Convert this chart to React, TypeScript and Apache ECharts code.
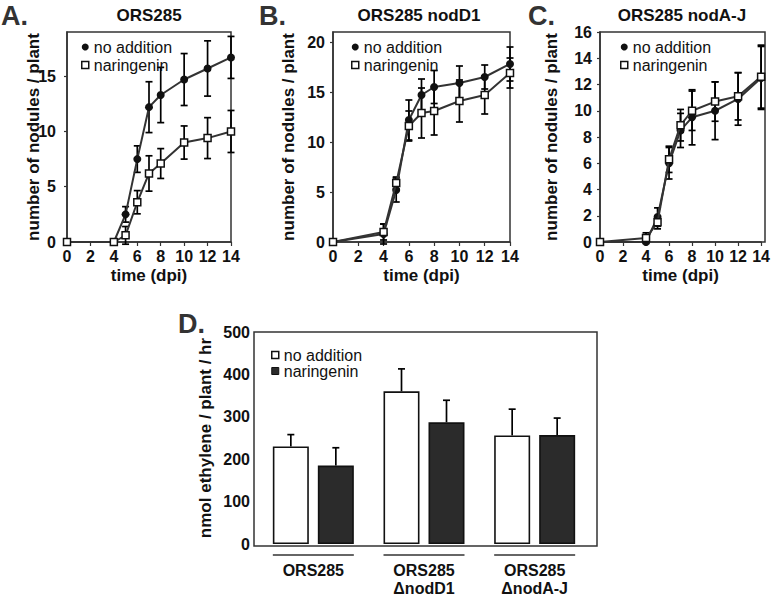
import React, { useEffect, useRef } from "react";
import * as echarts from "echarts";

const days = [0, 4, 5, 6, 7, 8, 10, 12, 14];

// Panel A: ORS285
const aNoAdd = [0, 0, 2.5, 7.5, 12.2, 13.3, 14.7, 15.7, 16.7];
const aNoAddErr = [0, 0, 0.7, 1.2, 2.3, 2.5, 2.35, 2.5, 1.9];
const aNar = [0, 0, 0.6, 3.6, 6.2, 7.1, 9.0, 9.4, 10.0];
const aNarErr = [0, 0, 0.8, 1.05, 1.6, 1.35, 1.5, 1.85, 1.9];

// Panel B: ORS285 nodD1
const bNoAdd = [0, 0.8, 5.2, 12.2, 14.7, 15.5, 15.9, 16.5, 17.8];
const bNoAddErr = [0, 1.0, 1.2, 2.0, 1.6, 1.65, 1.7, 1.2, 1.7];
const bNar = [0, 1.0, 5.9, 11.6, 12.9, 13.1, 14.1, 14.7, 16.9];
const bNarErr = [0, 0.8, 0.6, 1.5, 2.5, 2.4, 2.1, 1.9, 1.5];

// Panel C: ORS285 nodA-J
const cNoAdd = [0, 0, 1.9, 6.0, 8.5, 9.5, 10.0, 10.9, 12.5];
const cNoAddErr = [0, 0, 0.7, 1.2, 1.3, 2.1, 2.2, 2.0, 2.4];
const cNar = [0, 0.3, 1.5, 6.3, 8.9, 10.0, 10.7, 11.1, 12.6];
const cNarErr = [0, 0.4, 0.5, 1.0, 1.2, 1.5, 1.5, 1.8, 2.4];

// Panel D: ethylene
const strains = ["ORS285", "ORS285\n\u0394nodD1", "ORS285\n\u0394nodA-J"];
const dNoAdd = [230, 360, 256];
const dNoAddErr = [28, 53, 62];
const dNar = [185, 287, 257];
const dNarErr = [42, 52, 40];

const FONT = "Liberation Sans";
const DARK = "#333";
const BAR_W = 36;
const BAR_GAP = 9;

const errPoints = (vals: number[], errs: number[]) =>
  days.map((d, i) => [d, vals[i] - errs[i], vals[i] + errs[i]]);

function errorRender(params: any, api: any) {
  const lo = api.value(1);
  const hi = api.value(2);
  if (hi - lo <= 0) return { type: "group", children: [] };
  const x = api.value(0);
  const pTop = api.coord([x, hi]);
  const pBot = api.coord([x, lo]);
  const hw = 3.5;
  const st = { stroke: "#000", lineWidth: 1.7 };
  return {
    type: "group",
    children: [
      { type: "line", shape: { x1: pTop[0], y1: pTop[1], x2: pBot[0], y2: pBot[1] }, style: st },
      { type: "line", shape: { x1: pTop[0] - hw, y1: pTop[1], x2: pTop[0] + hw, y2: pTop[1] }, style: st },
      { type: "line", shape: { x1: pBot[0] - hw, y1: pBot[1], x2: pBot[0] + hw, y2: pBot[1] }, style: st },
    ],
  };
}

function barErrorRender(offset: number) {
  return (params: any, api: any) => {
    const c = api.value(0);
    const v = api.value(1);
    const e = api.value(2);
    const p = api.coord([c, v]);
    const t = api.coord([c, v + e]);
    const x = p[0] + offset;
    const hw = 3.5;
    const st = { stroke: "#000", lineWidth: 1.7 };
    return {
      type: "group",
      children: [
        { type: "line", shape: { x1: x, y1: p[1], x2: x, y2: t[1] }, style: st },
        { type: "line", shape: { x1: x - hw, y1: t[1], x2: x + hw, y2: t[1] }, style: st },
      ],
    };
  };
}

const grids = [
  { left: 67, top: 32, width: 164, height: 210 },
  { left: 333, top: 32, width: 177, height: 210 },
  { left: 600, top: 32, width: 165, height: 210 },
];

const yMax = [19, 21, 16];
const yInt = [5, 5, 2];
const yNameGap = [25, 36, 40];

const panelData = [
  [aNoAdd, aNoAddErr, aNar, aNarErr],
  [bNoAdd, bNoAddErr, bNar, bNarErr],
  [cNoAdd, cNoAddErr, cNar, cNarErr],
];

const tickLabel = { fontFamily: FONT, fontWeight: "bold" as const, fontSize: 16, color: "#111" };
const nameStyle = { fontFamily: FONT, fontWeight: "bold" as const, fontSize: 17, color: "#111" };

export default function App() {
  const ref = useRef<HTMLDivElement>(null);
  useEffect(() => {
    document.body.style.margin = "0";
    const chart = echarts.init(ref.current!, null, { renderer: "svg" });

    const xAxes: any[] = [];
    const yAxes: any[] = [];
    const series: any[] = [];
    const legends: any[] = [];
    const legendLeft = [76, 346, 615];

    grids.forEach((g, i) => {
      xAxes.push({
        type: "value",
        gridIndex: i,
        min: 0,
        max: 14,
        interval: 2,
        name: "time (dpi)",
        nameLocation: "middle",
        nameGap: 25,
        nameMoveOverlap: false,
        nameTextStyle: nameStyle,
        axisLine: { lineStyle: { color: DARK, width: 1.5 } },
        axisTick: { show: true, length: 4, lineStyle: { color: DARK, width: 1.2 } },
        axisLabel: { ...tickLabel, margin: 6 },
        splitLine: { show: false },
      });
      yAxes.push({
        type: "value",
        gridIndex: i,
        min: 0,
        max: yMax[i],
        interval: yInt[i],
        name: "number of nodules / plant",
        nameLocation: "middle",
        nameGap: yNameGap[i],
        nameMoveOverlap: false,
        nameTextStyle: nameStyle,
        axisLine: { lineStyle: { color: DARK, width: 1.5 } },
        axisTick: { show: true, length: 3, lineStyle: { color: DARK, width: 1.2 } },
        axisLabel: { ...tickLabel, margin: i === 0 ? 11 : 8, showMaxLabel: yMax[i] % yInt[i] === 0 },
        splitLine: { show: false },
      });
      const [na, naE, nr, nrE] = panelData[i];
      series.push(
        {
          type: "custom",
          xAxisIndex: i,
          yAxisIndex: i,
          renderItem: errorRender,
          data: errPoints(na, naE),
          z: 3,
          silent: true,
        },
        {
          type: "custom",
          xAxisIndex: i,
          yAxisIndex: i,
          renderItem: errorRender,
          data: errPoints(nr, nrE),
          z: 3,
          silent: true,
        },
        {
          type: "line",
          name: "no addition",
          xAxisIndex: i,
          yAxisIndex: i,
          data: days.map((d, k) => [d, na[k]]),
          symbol: "circle",
          symbolSize: 8,
          itemStyle: { color: "#111" },
          lineStyle: { color: DARK, width: 2 },
          z: 5,
        },
        {
          type: "line",
          name: "naringenin",
          xAxisIndex: i,
          yAxisIndex: i,
          data: days.map((d, k) => [d, nr[k]]),
          symbol: "rect",
          symbolSize: 7,
          itemStyle: { color: "#fff", borderColor: "#111", borderWidth: 1.5 },
          lineStyle: { color: DARK, width: 2 },
          z: 6,
        }
      );
      legends.push({
        left: legendLeft[i],
        top: 34,
        orient: "vertical",
        itemWidth: 7,
        itemHeight: 7,
        itemGap: 2,
        selectedMode: false,
        textStyle: { fontFamily: FONT, fontSize: 16, color: "#111" },
        data: [
          { name: "no addition", icon: "circle", itemStyle: { color: "#111", borderWidth: 0 } },
          { name: "naringenin", icon: "rect", itemStyle: { color: "#fff", borderColor: "#111", borderWidth: 1.5 } },
        ],
      });
    });

    // Panel D
    const gD = { left: 258, top: 332, width: 332, height: 214 };
    xAxes.push({
      type: "category",
      gridIndex: 3,
      data: strains,
      axisLine: { show: false },
      axisTick: { show: false },
      axisLabel: {
        fontFamily: FONT,
        fontWeight: "bold",
        fontSize: 16,
        color: "#111",
        lineHeight: 18,
        margin: 17,
      },
    });
    yAxes.push({
      type: "value",
      gridIndex: 3,
      min: 0,
      max: 500,
      interval: 100,
      name: "nmol ethylene / plant / hr",
      nameLocation: "middle",
      nameGap: 44,
      nameMoveOverlap: false,
      nameTextStyle: nameStyle,
      axisLine: { show: false },
      axisTick: { show: false },
      axisLabel: { ...tickLabel, margin: 8 },
      splitLine: { show: false },
    });
    const off = (BAR_W + BAR_GAP) / 2;
    series.push(
      {
        type: "bar",
        name: "no addition",
        xAxisIndex: 3,
        yAxisIndex: 3,
        data: dNoAdd,
        barWidth: BAR_W,
        barGap: (BAR_GAP / BAR_W) * 100 + "%",
        itemStyle: { color: "#fff", borderColor: "#111", borderWidth: 1.6 },
        z: 2,
      },
      {
        type: "bar",
        name: "naringenin",
        xAxisIndex: 3,
        yAxisIndex: 3,
        data: dNar,
        barWidth: BAR_W,
        barGap: (BAR_GAP / BAR_W) * 100 + "%",
        itemStyle: { color: "#2b2b2b", borderColor: "#111", borderWidth: 1.6 },
        z: 2,
      },
      {
        type: "custom",
        xAxisIndex: 3,
        yAxisIndex: 3,
        renderItem: barErrorRender(-off),
        data: strains.map((_, k) => [k, dNoAdd[k], dNoAddErr[k]]),
        z: 1,
        silent: true,
      },
      {
        type: "custom",
        xAxisIndex: 3,
        yAxisIndex: 3,
        renderItem: barErrorRender(off),
        data: strains.map((_, k) => [k, dNar[k], dNarErr[k]]),
        z: 1,
        silent: true,
      }
    );
    legends.push({
      left: 266,
      top: 342,
      orient: "vertical",
      itemWidth: 7,
      itemHeight: 7,
      itemGap: 0,
      selectedMode: false,
      textStyle: { fontFamily: FONT, fontSize: 16, color: "#111", lineHeight: 14 },
      data: [
        { name: "no addition", icon: "rect", itemStyle: { color: "#fff", borderColor: "#111", borderWidth: 1.5 } },
        { name: "naringenin", icon: "rect", itemStyle: { color: "#2b2b2b", borderColor: "#111", borderWidth: 1 } },
      ],
    });

    const letter = (t: string, x: number, y: number) => ({
      type: "text",
      x,
      y,
      style: { text: t, fontFamily: FONT, fontWeight: "bold", fontSize: 27, fill: "#333", textVerticalAlign: "middle" },
    });
    const title = (t: string, x: number) => ({
      type: "text",
      x,
      y: 15,
      style: {
        text: t,
        fontFamily: FONT,
        fontWeight: "bold",
        fontSize: 17,
        fill: "#111",
        textAlign: "center",
        textVerticalAlign: "middle",
      },
    });

    const baseGraphic: any[] = [
      letter("A.", 1, 16),
      letter("B.", 259, 16),
      letter("C.", 528, 16),
      letter("D.", 178, 324),
      title("ORS285", 149, 15),
      title("ORS285 nodD1", 419, 15),
      title("ORS285 nodA-J", 682, 15),
      ...grids.map((g) => ({
        type: "rect",
        shape: { x: g.left, y: g.top, width: g.width, height: g.height },
        style: { fill: "none", stroke: DARK, lineWidth: 1.5 },
        z: 0,
      })),
      {
        type: "rect",
        shape: { x: 254, y: 332, width: 343, height: 214 },
        style: { fill: "none", stroke: DARK, lineWidth: 1.5 },
        z: 0,
      },
    ];

    chart.setOption({
      animation: false,
      backgroundColor: "#fff",
      textStyle: { fontFamily: FONT },
      grid: [...grids, gD],
      xAxis: xAxes,
      yAxis: yAxes,
      legend: legends,
      series,
      graphic: baseGraphic,
    });

    const under: any[] = strains.map((_, k) => {
      const p = chart.convertToPixel({ xAxisIndex: 3, yAxisIndex: 3 } as any, [k, 0]) as number[];
      const half = BAR_W + BAR_GAP / 2;
      return {
        type: "line",
        shape: { x1: p[0] - half, y1: p[1] + 11, x2: p[0] + half, y2: p[1] + 11 },
        style: { stroke: DARK, lineWidth: 1.5 },
      };
    });
    chart.setOption({ graphic: [...baseGraphic, ...under] });

    return () => chart.dispose();
  }, []);

  return <div ref={ref} style={{ width: 773, height: 597 }} />;
}
